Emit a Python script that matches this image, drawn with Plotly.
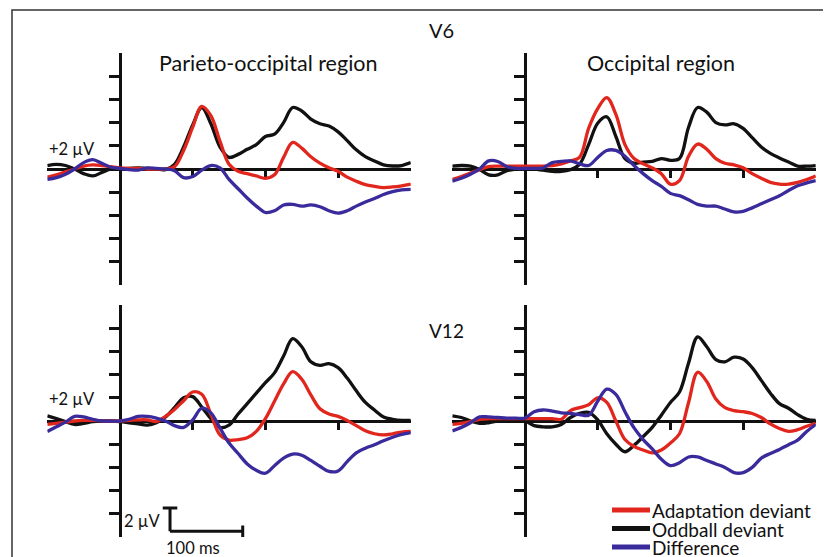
import plotly.graph_objects as go

# ---------------- data (time in ms, amplitude in microvolts) ----------------
time_ms = [-100, -87.5, -75, -62.5, -50, -37.5, -25, -12.5, 0, 12.5, 25, 37.5, 50, 62.5,
           75, 87.5, 100, 112.5, 125, 137.5, 150, 162.5, 175, 187.5, 200, 212.5, 225,
           237.5, 250, 262.5, 275, 287.5, 300, 312.5, 325, 337.5, 350, 362.5, 375, 387.5, 400]

# V6 - Parieto-occipital region
po_v6_adapt = [-0.7, -0.5, -0.25, 0.0, 0.25, 0.35, 0.3, 0.2, 0.1, 0.05, 0.05, 0.0, 0.0, 0.0,
               0.2, 1.6, 3.6, 5.4, 4.6, 2.4, 0.4, -0.2, -0.4, -0.6, -0.8, -0.5, 1.0,
               2.3, 1.8, 1.05, 0.5, 0.1, -0.2, -0.7, -1.05, -1.35, -1.5, -1.6, -1.55, -1.45, -1.3]
po_v6_odd = [0.3, 0.4, 0.3, 0.0, -0.4, -0.6, -0.3, 0.0, 0.0, 0.05, 0.1, 0.05, 0.0, -0.05,
             0.4, 1.9, 3.8, 5.3, 3.9, 1.9, 1.0, 1.26, 1.7, 2.1, 2.8, 3.0, 4.0,
             5.3, 5.0, 4.3, 3.9, 3.7, 3.2, 2.45, 1.65, 1.06, 0.7, 0.35, 0.26, 0.3, 0.55]
po_v6_diff = [-0.9, -0.75, -0.45, 0.0, 0.55, 0.8, 0.5, 0.15, 0.05, -0.05, -0.1, 0.1, 0.05, 0.0,
              -0.15, -0.75, -0.65, -0.1, 0.3, 0.1, -0.9, -1.7, -2.5, -3.2, -3.75, -3.6, -3.1,
              -3.05, -3.2, -3.1, -3.25, -3.6, -3.8, -3.6, -3.2, -2.85, -2.55, -2.2, -1.95, -1.8, -1.75]

# V6 - Occipital region
occ_v6_adapt = [-0.9, -0.65, -0.35, -0.05, 0.2, 0.25, 0.25, 0.25, 0.25, 0.25, 0.25, 0.3, 0.45, 0.7,
                1.0, 3.5, 5.2, 6.15, 4.7, 2.1, 0.9, 0.45, 0.1, -0.4, -1.3, -1.0, 1.1,
                2.15, 1.7, 0.9, 0.5, 0.35, 0.1, -0.4, -0.8, -1.15, -1.3, -1.3, -1.15, -0.9, -0.6]
occ_v6_odd = [0.25, 0.3, 0.25, -0.05, -0.5, -0.5, -0.15, 0.0, 0.05, 0.0, -0.1, -0.2, -0.2, -0.05,
              0.4, 2.1, 3.95, 4.5, 2.8, 0.9, 0.5, 0.6, 0.65, 0.9, 0.75, 0.9, 3.6,
              5.3, 4.9, 4.0, 3.8, 3.9, 3.5, 2.7, 1.9, 1.35, 0.95, 0.6, 0.25, 0.25, 0.3]
occ_v6_diff = [-1.05, -0.8, -0.45, 0.0, 0.7, 0.65, 0.2, 0.05, 0.05, 0.05, 0.1, 0.55, 0.65, 0.7,
               0.45, 0.3, 1.0, 1.6, 1.6, 1.1, 0.3, -0.4, -1.0, -1.5, -2.1, -2.3, -2.65,
               -3.05, -3.2, -3.2, -3.45, -3.7, -3.65, -3.35, -3.0, -2.65, -2.3, -1.85, -1.45, -1.2, -1.0]

# V12 - Parieto-occipital region
po_v12_adapt = [-0.3, -0.2, -0.1, 0.0, 0.05, 0.05, 0.0, 0.0, 0.0, 0.05, 0.1, 0.1, -0.05, 0.4,
                1.0, 1.75, 2.5, 2.3, 0.6, -1.2, -1.65, -1.6, -1.45, -0.9, 0.2, 1.7, 3.2,
                4.25, 3.6, 2.25, 1.05, 0.6, 0.4, 0.05, -0.4, -0.85, -1.1, -1.2, -1.1, -0.95, -0.9]
po_v12_odd = [0.45, 0.2, -0.05, -0.3, -0.2, -0.05, 0.0, 0.0, -0.05, -0.15, -0.25, -0.35, -0.15, 0.35,
              1.15, 2.0, 2.1, 1.2, 0.2, -0.55, -0.35, 0.6, 1.5, 2.4, 3.3, 4.15, 5.6,
              7.1, 6.4, 5.1, 4.8, 4.95, 4.6, 3.7, 2.6, 1.6, 0.95, 0.35, 0.15, 0.05, 0.05]
po_v12_diff = [-0.9, -0.5, -0.1, 0.4, 0.35, 0.15, 0.0, 0.0, 0.0, 0.15, 0.4, 0.4, 0.25, 0.0,
               -0.4, -0.55, 0.1, 1.1, 0.7, -0.6, -1.9, -2.8, -3.7, -4.25, -4.5, -3.85, -3.2,
               -2.85, -2.95, -3.4, -3.9, -4.35, -4.3, -3.5, -2.75, -2.35, -2.05, -1.7, -1.4, -1.15, -1.0]

# V12 - Occipital region
occ_v12_adapt = [-0.3, -0.2, -0.05, 0.15, 0.2, 0.2, 0.2, 0.2, 0.2, 0.2, 0.2, 0.2, 0.15, 0.9,
                 1.15, 1.4, 2.0, 1.6, 0.0, -1.6, -2.2, -2.5, -2.75, -2.5, -1.9, -1.1, 1.6,
                 4.2, 3.4, 1.9, 1.15, 0.9, 0.8, 0.65, 0.3, -0.25, -0.65, -0.9, -0.75, -0.45, -0.2]
occ_v12_odd = [0.45, 0.3, 0.0, -0.2, -0.15, 0.0, 0.0, 0.0, 0.0, -0.4, -0.5, -0.5, -0.3, 0.3,
               0.65, 0.75, 0.1, -1.1, -2.0, -2.65, -2.1, -1.35, -0.55, 0.5, 1.6, 2.5, 5.0,
               7.25, 6.4, 5.3, 5.1, 5.5, 5.35, 4.6, 3.5, 2.4, 1.5, 1.1, 0.55, 0.15, 0.05]
occ_v12_diff = [-0.85, -0.55, -0.15, 0.35, 0.35, 0.3, 0.25, 0.25, 0.25, 0.8, 0.95, 0.85, 0.7, 0.65,
                0.55, 0.5, 1.7, 2.75, 2.3, 0.8, -0.6, -1.6, -2.4, -3.3, -3.85, -3.6, -3.1,
                -3.1, -3.4, -3.7, -4.0, -4.45, -4.45, -4.0, -3.2, -2.8, -2.45, -2.05, -1.65, -0.9, -0.3]

y_tick_vals = [-8, -6, -4, -2, 2, 4, 6, 8]
x_tick_vals = [100, 200, 300]
x_range = [-100, 400]
y_range = [-10, 10]

series_names = ["Adaptation deviant", "Oddball deviant", "Difference"]
colors = {"Adaptation deviant": "#e1271d", "Oddball deviant": "#111111", "Difference": "#3a2b9c"}

# ---------------- layout geometry ----------------
# positions below are page pixels; the page body has an 8 px margin
OFF = 8
W, H = 831 - OFF, 557 - OFF
FONT = "Lato, 'Open Sans', sans-serif"


def fx(p):
    return (p - OFF) / W


def fy(p):
    return (H - (p - OFF)) / H


panels = [
    dict(x0=47.3, x1=410.8, top=53, bot=285,
         data={"Adaptation deviant": po_v6_adapt, "Oddball deviant": po_v6_odd, "Difference": po_v6_diff}),
    dict(x0=452.3, x1=815.8, top=53, bot=285,
         data={"Adaptation deviant": occ_v6_adapt, "Oddball deviant": occ_v6_odd, "Difference": occ_v6_diff}),
    dict(x0=47.3, x1=410.8, top=305, bot=537,
         data={"Adaptation deviant": po_v12_adapt, "Oddball deviant": po_v12_odd, "Difference": po_v12_diff}),
    dict(x0=452.3, x1=815.8, top=305, bot=537,
         data={"Adaptation deviant": occ_v12_adapt, "Oddball deviant": occ_v12_odd, "Difference": occ_v12_diff}),
]

fig = go.Figure()
layout = dict(
    width=W, height=H,
    margin=dict(l=0, r=0, t=0, b=0),
    paper_bgcolor="white", plot_bgcolor="rgba(0,0,0,0)",
    showlegend=False,
    font=dict(family=FONT, color="#111111"),
)

draw_order = ["Oddball deviant", "Adaptation deviant", "Difference"]

for i, p in enumerate(panels, start=1):
    xd = [fx(p["x0"]), fx(p["x1"])]
    yd = [fy(p["bot"]), fy(p["top"])]
    x_zero = xd[0] + (0 - x_range[0]) / (x_range[1] - x_range[0]) * (xd[1] - xd[0])
    y_zero = yd[0] + (0 - y_range[0]) / (y_range[1] - y_range[0]) * (yd[1] - yd[0])
    xk = "xaxis" if i == 1 else f"xaxis{i}"
    yk = "yaxis" if i == 1 else f"yaxis{i}"
    layout[xk] = dict(domain=xd, range=x_range, anchor="free", position=y_zero,
                      showline=True, linewidth=3, linecolor="#111111",
                      ticks="outside", tickvals=x_tick_vals, ticklen=7, tickwidth=3,
                      tickcolor="#111111", showticklabels=False, showgrid=False,
                      zeroline=False, layer="below traces", fixedrange=True)
    layout[yk] = dict(domain=yd, range=y_range, anchor="free", position=x_zero,
                      showline=True, linewidth=3, linecolor="#111111",
                      ticks="outside", tickvals=y_tick_vals, ticklen=10, tickwidth=3,
                      tickcolor="#111111", showticklabels=False, showgrid=False,
                      zeroline=False, layer="below traces", fixedrange=True)
    xr = "x" if i == 1 else f"x{i}"
    yr = "y" if i == 1 else f"y{i}"
    for name in draw_order:
        fig.add_trace(go.Scatter(x=time_ms, y=p["data"][name], mode="lines", name=name,
                                 xaxis=xr, yaxis=yr, showlegend=False,
                                 line=dict(color=colors[name], width=3.3, shape="spline", smoothing=1.0)))

fig.update_layout(**layout)

shapes = []
annotations = []

# outer frame (partly outside the page, as in the figure)
shapes.append(dict(type="rect", xref="paper", yref="paper",
                   x0=fx(12), x1=fx(900), y0=fy(620), y1=fy(10),
                   line=dict(color="#333333", width=1.5)))

# titles and labels
annotations += [
    dict(text="V6", x=fx(427), y=fy(30), xanchor="left", yanchor="middle", font=dict(size=20)),
    dict(text="V12", x=fx(427), y=fy(330), xanchor="left", yanchor="middle", font=dict(size=19)),
    dict(text="Parieto-occipital region", x=fx(268), y=fy(63), xanchor="center", yanchor="middle",
         font=dict(size=21.5)),
    dict(text="Occipital region", x=fx(661), y=fy(63), xanchor="center", yanchor="middle",
         font=dict(size=21.5)),
    dict(text="+2 µV", x=fx(47), y=fy(149), xanchor="left", yanchor="middle", font=dict(size=16.5)),
    dict(text="+2 µV", x=fx(47), y=fy(399), xanchor="left", yanchor="middle", font=dict(size=16.5)),
    dict(text="2 µV", x=fx(163), y=fy(521), xanchor="right", yanchor="middle", font=dict(size=16.5)),
    dict(text="100 ms", x=fx(164), y=fy(548), xanchor="left", yanchor="middle", font=dict(size=16.5)),
]
for a in annotations:
    a.update(xref="paper", yref="paper", showarrow=False)

# scale bar (in data units of the lower-left panel: 2 µV and 100 ms)
sb_x, sb_y = 68.8, -9.5
bar = dict(xref="x3", yref="y3", type="line", line=dict(color="#111111", width=3))
shapes += [
    dict(bar, x0=sb_x, x1=sb_x, y0=sb_y, y1=sb_y + 2),
    dict(bar, x0=sb_x - 10, x1=sb_x + 10, y0=sb_y + 2, y1=sb_y + 2),
    dict(bar, x0=sb_x, x1=sb_x + 100, y0=sb_y, y1=sb_y),
    dict(bar, x0=sb_x + 100, x1=sb_x + 100, y0=sb_y + 0.5, y1=sb_y - 0.6),
]

# legend (drawn as key lines + labels)
for k, name in enumerate(series_names):
    yy = 510 + k * 18.5
    shapes.append(dict(type="line", xref="paper", yref="paper", x0=fx(612), x1=fx(650),
                       y0=fy(yy), y1=fy(yy), line=dict(color=colors[name], width=5)))
    annotations.append(dict(text=name, x=fx(650), y=fy(yy), xref="paper", yref="paper",
                            xanchor="left", yanchor="middle", showarrow=False, height=18,
                            font=dict(size=19)))

fig.update_layout(shapes=shapes, annotations=annotations)
fig.write_html("out.html")
